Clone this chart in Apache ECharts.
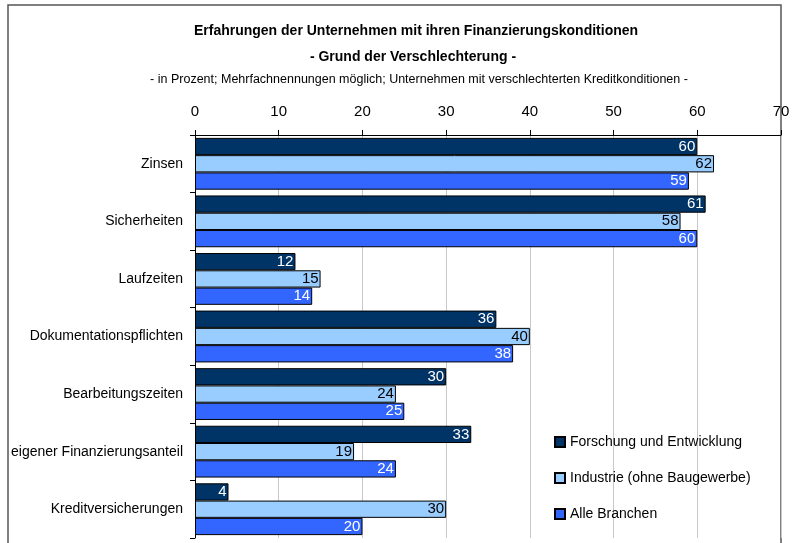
<!DOCTYPE html>
<html>
<head>
<meta charset="utf-8">
<script src="https://cdn.jsdelivr.net/npm/echarts@6/dist/echarts.min.js"></script>
<style>
  html, body { margin: 0; padding: 0; background: #fff; }
  #chart { width: 796px; height: 543px; }
</style>
</head>
<body>
<div id="chart"></div>
<script>
// Kategorien (von oben nach unten)
var categories = ['Zinsen', 'Sicherheiten', 'Laufzeiten', 'Dokumentationspflichten',
                  'Bearbeitungszeiten', 'eigener Finanzierungsanteil', 'Kreditversicherungen'];
var seriesNames = ['Forschung und Entwicklung', 'Industrie (ohne Baugewerbe)', 'Alle Branchen'];
var forschung = [60, 61, 12, 36, 30, 33, 4];
var industrie = [62, 58, 15, 40, 24, 19, 30];
var alle      = [59, 60, 14, 38, 25, 24, 20];
var xTicks = [0, 10, 20, 30, 40, 50, 60, 70];

var colors = ['#003366', '#99ccff', '#3366ff'];
var labelColors = ['#ffffff', '#000000', '#ffffff'];
var font = 'Liberation Sans';

var chart = echarts.init(document.getElementById('chart'));

function makeSeries(i, data) {
    return {
        name: seriesNames[i],
        type: 'bar',
        data: data,
        barGap: '0%',
        barCategoryGap: '10%',
        itemStyle: { color: colors[i], borderColor: '#000', borderWidth: 1 },
        label: {
            show: true,
            position: 'insideRight',
            distance: 2,
            color: labelColors[i],
            fontFamily: font,
            fontSize: 15
        }
    };
}

var option = {
    animation: false,
    backgroundColor: '#fff',
    textStyle: { fontFamily: font },
    graphic: [{
        type: 'rect',
        shape: { x: 8, y: 5, width: 773, height: 560 },
        style: { fill: 'none', stroke: '#555', lineWidth: 1.5 },
        silent: true
    }],
    title: [{
        text: 'Erfahrungen der Unternehmen mit ihren Finanzierungskonditionen',
        left: 411, top: 19, textAlign: 'center',
        textStyle: { fontSize: 14, fontWeight: 'bold', color: '#000', fontFamily: font }
    }, {
        text: '- Grund der Verschlechterung -',
        left: 408, top: 45, textAlign: 'center',
        textStyle: { fontSize: 14, fontWeight: 'bold', color: '#000', fontFamily: font }
    }, {
        text: '- in Prozent; Mehrfachnennungen möglich; Unternehmen mit verschlechterten Kreditkonditionen -',
        left: 414, top: 68, textAlign: 'center',
        textStyle: { fontSize: 12.5, fontWeight: 'normal', color: '#000', fontFamily: font }
    }],
    legend: {
        data: seriesNames,
        orient: 'vertical',
        left: 549,
        top: 430,
        itemGap: 22,
        itemWidth: 10,
        itemHeight: 10,
        icon: 'rect',
        textStyle: { fontSize: 14, color: '#000', fontFamily: font }
    },
    grid: { left: 195, right: 15, top: 135, bottom: 5, containLabel: false },
    xAxis: {
        type: 'value',
        position: 'top',
        min: 0,
        max: 70,
        interval: 10,
        axisLine: { show: true, lineStyle: { color: '#000', width: 1 } },
        axisTick: { show: true, length: 5, lineStyle: { color: '#000' } },
        axisLabel: {
            color: '#000', fontSize: 15, margin: 16, fontFamily: font,
            formatter: function (v) { return xTicks.indexOf(v) >= 0 ? String(v) : ''; }
        },
        splitLine: { show: true, lineStyle: { color: '#c8c8c8', width: 1 } }
    },
    yAxis: {
        type: 'category',
        inverse: true,
        data: categories,
        axisLine: { show: true, lineStyle: { color: '#000', width: 1 } },
        axisTick: { show: true, length: 5, lineStyle: { color: '#000' } },
        axisLabel: { color: '#000', fontSize: 14, margin: 12, fontFamily: font }
    },
    series: [
        makeSeries(0, forschung),
        makeSeries(1, industrie),
        makeSeries(2, alle)
    ]
};

chart.setOption(option);
</script>
</body>
</html>
